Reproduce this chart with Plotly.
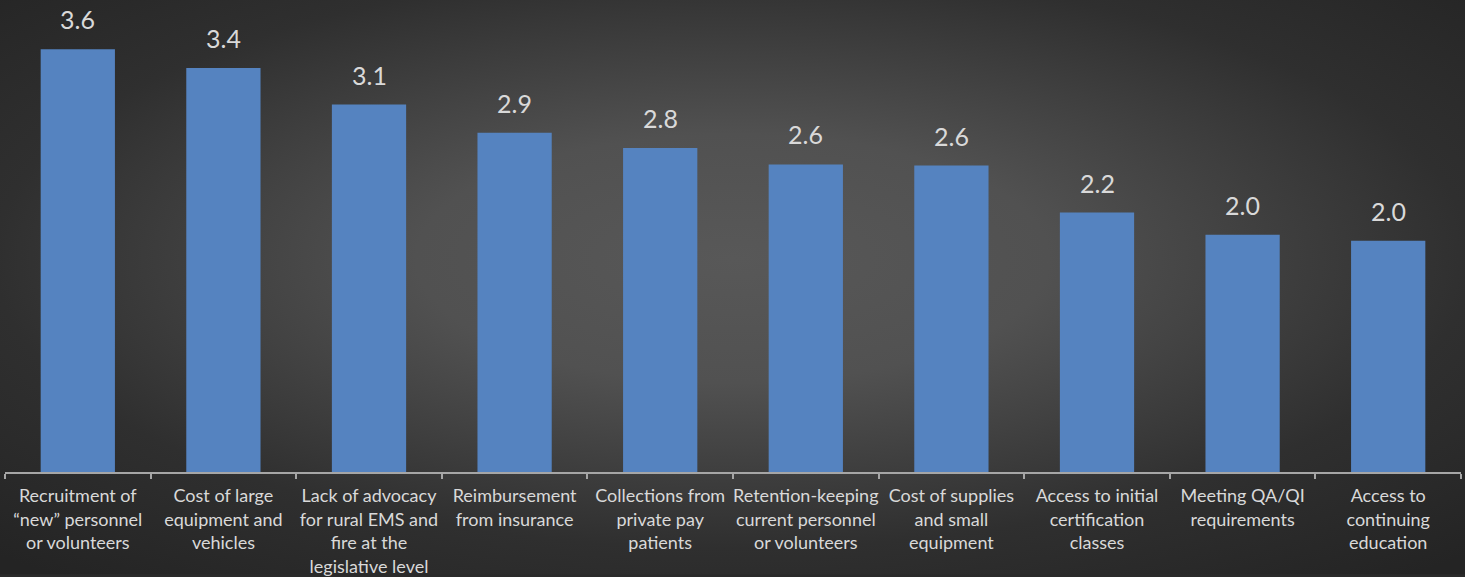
import base64
import plotly.graph_objects as go

categories = [
    "Recruitment of<br>“new” personnel<br>or volunteers",
    "Cost of large<br>equipment and<br>vehicles",
    "Lack of advocacy<br>for rural EMS and<br>fire at the<br>legislative level",
    "Reimbursement<br>from insurance",
    "Collections from<br>private pay<br>patients",
    "Retention-keeping<br>current personnel<br>or volunteers",
    "Cost of supplies<br>and small<br>equipment",
    "Access to initial<br>certification<br>classes",
    "Meeting QA/QI<br>requirements",
    "Access to<br>continuing<br>education",
]
values = [3.6, 3.44, 3.13, 2.89, 2.76, 2.62, 2.61, 2.21, 2.02, 1.97]
value_labels = [f"{v:.1f}" for v in values]

W, H = 1465, 577
ML, MR, MT, MB = 5, 4, 0, 103

svg = f'''<svg xmlns="http://www.w3.org/2000/svg" width="{W}" height="{H}" viewBox="0 0 {W} {H}" preserveAspectRatio="none">
<defs><radialGradient id="g" cx="0.5" cy="0.45" r="0.72" gradientUnits="objectBoundingBox">
<stop offset="0" stop-color="#585858"/>
<stop offset="0.3" stop-color="#515151"/>
<stop offset="0.7" stop-color="#2f2f2f"/>
<stop offset="1" stop-color="#242424"/>
</radialGradient></defs>
<rect x="0" y="0" width="{W}" height="{H}" fill="url(#g)"/></svg>'''
bg_uri = "data:image/svg+xml;base64," + base64.b64encode(svg.encode()).decode()

pw = W - ML - MR
ph = H - MT - MB

fig = go.Figure()
fig.add_trace(go.Bar(
    x=categories, y=values,
    marker=dict(color="#5583c0", line=dict(width=0)),
    hoverinfo="skip",
))

for c, v, t in zip(categories, values, value_labels):
    fig.add_annotation(x=c, y=v, text=t, showarrow=False, yanchor="bottom",
                       yshift=13, font=dict(family="Lato", size=25, color="#d9d9d9"))

fig.add_layout_image(dict(
    source=bg_uri, xref="paper", yref="paper",
    x=-ML / pw, y=1 + MT / ph, sizex=W / pw, sizey=H / ph,
    xanchor="left", yanchor="top", sizing="stretch", layer="below",
))

fig.update_layout(
    width=W, height=H,
    margin=dict(l=ML, r=MR, t=MT, b=MB),
    paper_bgcolor="#2a2a2a", plot_bgcolor="rgba(0,0,0,0)",
    bargap=0.49,
    showlegend=False,
    font=dict(family="Lato", color="#d9d9d9"),
    xaxis=dict(
        showgrid=False, zeroline=False,
        showline=True, linecolor="#a6a6a6", linewidth=1.5,
        ticks="outside", tickson="boundaries", ticklen=5, tickwidth=1.5, tickcolor="#a6a6a6",
        tickfont=dict(family="Lato", size=18, color="#d9d9d9"),
        ticklabelstandoff=7,
        tickangle=0,
    ),
    yaxis=dict(range=[0, 4.02], visible=False, showgrid=False, zeroline=False),
)

fig.write_html("out.html")
